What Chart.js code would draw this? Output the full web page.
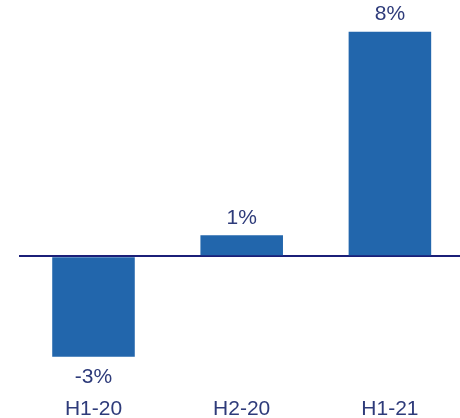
<!DOCTYPE html>
<html>
<head>
<meta charset="utf-8">
<script src="https://cdn.jsdelivr.net/npm/chart.js@4/dist/chart.umd.min.js"></script>
<style>
  html, body { margin: 0; padding: 0; background: #fff; overflow: hidden; }
  #wrap { width: 465px; height: 418px; position: relative; }
</style>
</head>
<body>
<div id="wrap"><canvas id="chart"></canvas></div>
<script>
// half-year growth (labels are rounded to whole %)
const periods = ["H1-20", "H2-20", "H1-21"];
const growth = [-3.45, 0.72, 7.72];

const BAR = "#2266ac";
const NAVY = "#2e3b7a";
const FONT = "'Liberation Sans', Arial, sans-serif";

// percent labels above positive bars, below negative ones
const valueLabels = {
  id: "valueLabels",
  afterDatasetsDraw(chart) {
    const { ctx } = chart;
    const meta = chart.getDatasetMeta(0);
    ctx.save();
    ctx.font = "21px " + FONT;
    ctx.fillStyle = NAVY;
    ctx.textAlign = "center";
    meta.data.forEach((bar, i) => {
      const v = growth[i];
      const txt = Math.round(v) + "%";
      if (v >= 0) {
        ctx.textBaseline = "bottom";
        ctx.fillText(txt, bar.x, bar.y - 7);
      } else {
        ctx.textBaseline = "top";
        ctx.fillText(txt, bar.x, bar.y + 10);
      }
    });
    ctx.restore();
  },
};

new Chart(document.getElementById("chart"), {
  type: "bar",
  data: {
    labels: periods,
    datasets: [{
      data: growth,
      backgroundColor: BAR,
      borderWidth: 0,
      barPercentage: 1,
      categoryPercentage: 0.557,
    }],
  },
  options: {
    responsive: true,
    maintainAspectRatio: false,
    animation: false,
    layout: { padding: { top: 9, left: 19.4, right: 1, bottom: 0 } },
    plugins: { legend: { display: false }, tooltip: { enabled: false } },
    scales: {
      x: {
        grid: { display: false, drawTicks: false },
        border: { display: false },
        ticks: { padding: 24, color: NAVY, font: { family: FONT, size: 21 } },
        afterFit: (scale) => { scale.height = 45.3; },
      },
      y: {
        min: -4,
        max: 8.5,
        z: 1,
        border: { display: false },
        ticks: { display: false, stepSize: 1 },
        grid: {
          drawTicks: false,
          lineWidth: 2,
          color: (c) => (c.tick && c.tick.value === 0 ? "#1b1f78" : "rgba(0,0,0,0)"),
        },
      },
    },
  },
  plugins: [valueLabels],
});
</script>
</body>
</html>
